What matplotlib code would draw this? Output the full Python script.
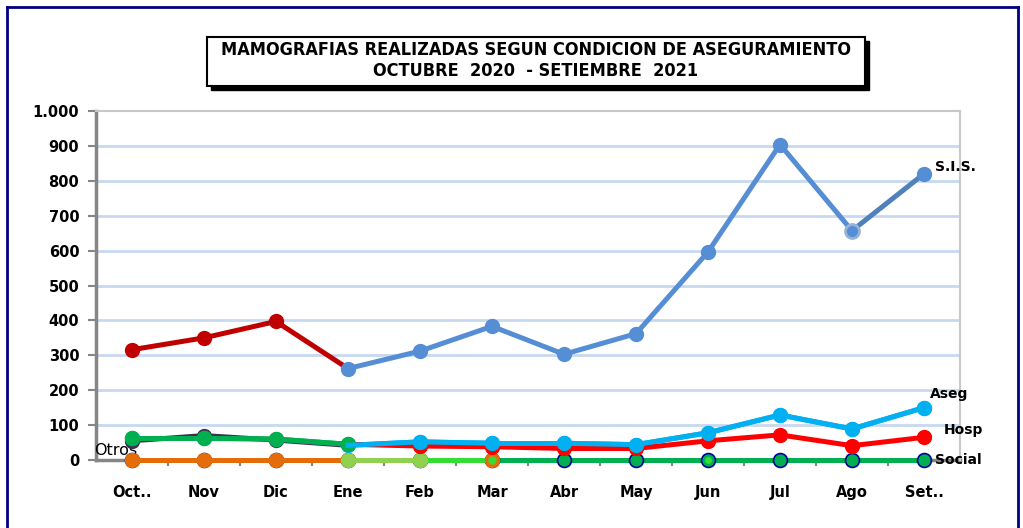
import numpy as np
import matplotlib
matplotlib.use("Agg")
import matplotlib.pyplot as plt
from matplotlib.patches import Rectangle
from matplotlib.lines import Line2D
from matplotlib.ticker import FuncFormatter, FixedLocator

# Data
months = ["Oct..", "Nov", "Dic", "Ene", "Feb", "Mar", "Abr", "May", "Jun", "Jul", "Ago", "Set.."]
sis = [316, 350, 397, 262, 312, 383, 303, 362, 596, 904, 657, 820]
aseg = [55, 70, 57, 42, 52, 48, 48, 44, 78, 129, 89, 150]
hosp = [62, 62, 60, 45, 40, 38, 33, 33, 55, 72, 41, 65]
social = [0, 0, 0, 0, 0, 0, 0, 0, 0, 0, 0, 0]
otros = [0, 0, 0, 0, 0, 0, 0, 0, 0, 0, 0, 0]

# per-segment colours (Excel varied formatting per point)
sis_seg = ["#C00000"] * 3 + ["#558ED5"] * 7 + ["#4F81BD"]
sis_mk = ["#C00000"] * 3 + ["#558ED5"] * 9
aseg_seg = ["#403152"] * 3 + ["#00B0F0"] * 8
aseg_mk = ["#403152"] * 3 + ["#00B0F0"] * 9
hosp_seg = ["#00B050"] * 3 + ["#FF0000"] * 8
hosp_mk = ["#00B050"] * 4 + ["#FF0000"] * 8
otros_seg = ["#E46C0A"] * 3 + ["#92D050"] + ["#33DD33"]
otros_mk = ["#E46C0A"] * 3 + ["#92D050"] * 2 + ["#E46C0A"]

LW = 3.6
MS = 10


def draw_series(ax, x, y, seg_colors, mk_colors, z):
    for i, c in enumerate(seg_colors):
        ax.plot(x[i:i + 2], y[i:i + 2], color=c, lw=LW, solid_capstyle="round", zorder=z, clip_on=False)
    for i, c in enumerate(mk_colors):
        ax.plot(x[i], y[i], "o", color=c, ms=MS, mec=c, zorder=z + 0.5, clip_on=False)


fig = plt.figure(figsize=(10.23, 5.28), dpi=100)
ax = fig.add_axes([96 / 1023, 1 - 460 / 528, 864 / 1023, 349 / 528])

x = np.arange(len(months))
ax.set_xlim(-0.5, len(months) - 0.5)
ax.set_ylim(0, 1000)

# gridlines
for v in range(100, 1000, 100):
    ax.axhline(v, color="#C6D9F1", lw=2, zorder=1)

# series
ax.plot(x, social, color="#00B050", lw=LW, zorder=3, clip_on=False)
ax.plot(x, social, "o", ms=MS, color="#00B050", mec="#0000A0", mew=1.2, zorder=3.2, clip_on=False)
draw_series(ax, x[:6], otros[:6], otros_seg, otros_mk, 4)
ax.plot(x[5], otros[5], "o", ms=5, color="#33DD33", zorder=4.8, clip_on=False)
ax.plot(x[8], social[8], "o", ms=4, color="#33DD33", zorder=4.8, clip_on=False)
draw_series(ax, x, hosp, hosp_seg, hosp_mk, 5)
draw_series(ax, x, aseg, aseg_seg, aseg_mk, 4.6)
# green first segments of hosp drawn above dark aseg
for i in range(3):
    ax.plot(x[i:i + 2], hosp[i:i + 2], color="#00B050", lw=LW, zorder=6)
    ax.plot(x[i], hosp[i], "o", ms=MS, color="#00B050", zorder=6.5)
ax.plot(x[3], hosp[3], "o", ms=MS, color="#00B050", zorder=6.5)
for i in range(3, 11):
    ax.plot(x[i:i + 2], aseg[i:i + 2], color="#00B0F0", lw=LW, zorder=7)
    ax.plot(x[i + 1], aseg[i + 1], "o", ms=MS, color="#00B0F0", zorder=7.5)
draw_series(ax, x, sis, sis_seg, sis_mk, 8)
ax.plot(x[10], sis[10], "o", ms=MS, color="#558ED5", mec="#95B3D7", mew=2, zorder=9)

# spines and ticks
for s in ["top", "right"]:
    ax.spines[s].set_color("#C8C8C8")
    ax.spines[s].set_linewidth(1.5)
for s in ["left", "bottom"]:
    ax.spines[s].set_color("#868686")
    ax.spines[s].set_linewidth(2.5)
    ax.spines[s].set_zorder(2)

ax.yaxis.set_major_locator(FixedLocator(range(0, 1001, 100)))
ax.yaxis.set_major_formatter(FuncFormatter(lambda v, p: f"{int(v):,}".replace(",", ".")))
ax.tick_params(axis="y", direction="out", length=6, width=1.5, color="#868686", pad=6)
ax.set_xticks(x)
ax.set_xticklabels(months)
ax.tick_params(axis="x", length=0, pad=18)
ax.set_xticks(np.arange(0.5, len(months) - 1, 1), minor=True)
ax.tick_params(axis="x", which="minor", direction="out", length=4, width=1.5, color="#868686")
for lab in ax.get_xticklabels() + ax.get_yticklabels():
    lab.set_fontweight("bold")
    lab.set_fontsize(10.5)
    lab.set_family("DejaVu Sans")

# series labels
lab_kw = dict(fontsize=10, fontweight="bold", family="DejaVu Sans", va="center")
ax.annotate("S.I.S.", (x[11], sis[11]), xytext=(8, 5), textcoords="offset points", **lab_kw)
ax.annotate("Aseg", (x[11], aseg[11]), xytext=(4, 10), textcoords="offset points", **lab_kw)
ax.annotate("Hosp", (x[11], hosp[11]), xytext=(14, 5), textcoords="offset points", **lab_kw)
ax.annotate("Social", (x[11], social[11]), xytext=(8, 0), textcoords="offset points", **lab_kw)
ax.annotate("Otros", (x[0], otros[0]), xytext=(-27, 7), textcoords="offset points",
            fontsize=11.5, family="DejaVu Sans", va="center")

# title box with shadow
fw, fh = 1023, 528
shadow = Rectangle((211 / fw, 1 - 90 / fh), 658 / fw, 49 / fh, transform=fig.transFigure,
                   facecolor="black", edgecolor="black", zorder=1)
box = Rectangle((207 / fw, 1 - 86 / fh), 658 / fw, 49 / fh, transform=fig.transFigure,
                facecolor="white", edgecolor="black", lw=1.5, zorder=2)
fig.add_artist(shadow)
fig.add_artist(box)
title_kw = dict(fontsize=13.0, fontweight="bold", family="DejaVu Sans",
                ha="center", va="center", zorder=3, stretch="condensed")
fig.text(536 / fw, 1 - 50 / fh, "MAMOGRAFIAS REALIZADAS SEGUN CONDICION DE ASEGURAMIENTO", **title_kw)
fig.text(536 / fw, 1 - 71 / fh, "OCTUBRE  2020  - SETIEMBRE  2021", **title_kw)

# outer border of the chart area
for xs, ys in [([7, 7], [7, 528]), ([7, 1018], [7, 7]), ([1018, 1018], [7, 528])]:
    fig.add_artist(Line2D([v / fw for v in xs], [1 - v / fh for v in ys],
                          transform=fig.transFigure, color="#000080", lw=2))

fig.savefig("out.png", dpi=100)
